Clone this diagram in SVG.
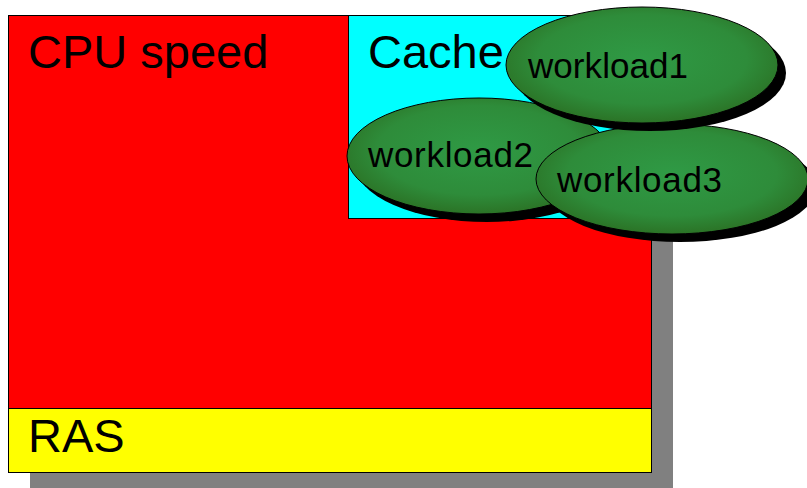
<svg xmlns="http://www.w3.org/2000/svg" width="807" height="488" viewBox="0 0 807 488">
<defs>
<radialGradient id="g" cx="50%" cy="45%" r="55%">
<stop offset="0" stop-color="#2f9a45"/>
<stop offset="0.7" stop-color="#2e8c3a"/>
<stop offset="1" stop-color="#2b7326"/>
</radialGradient>
</defs>
<style>
text{font-family:"Liberation Sans",Arial,sans-serif;fill:#000}
.big{font-size:47px}
.wl{font-size:35px}
.box{stroke:#000;stroke-width:1}
.sh{fill:#000}
.el{fill:url(#g);stroke:#000;stroke-width:1}
</style>
<rect x="30" y="31" width="643" height="457" fill="#808080"/>
<g id="cpu">
<rect class="box" x="8.5" y="15.5" width="643" height="393" fill="#ff0000"/>
<text class="big" x="28" y="68">CPU speed</text>
</g>
<g id="ras">
<rect class="box" x="8.5" y="408.5" width="643" height="64" fill="#ffff00"/>
<text class="big" x="28" y="452">RAS</text>
</g>
<g id="cache">
<rect class="box" x="348.5" y="15.5" width="290" height="203" fill="#00ffff"/>
<text class="big" x="368" y="68">Cache</text>
</g>
<g id="workload2">
<ellipse class="sh" cx="487" cy="164" rx="132" ry="58"/>
<ellipse class="el" cx="479" cy="156" rx="132" ry="58"/>
<text class="wl" x="368" y="167" textLength="165">workload2</text>
</g>
<g id="workload3">
<ellipse class="sh" cx="680" cy="187" rx="136" ry="55"/>
<ellipse class="el" cx="672" cy="179" rx="136" ry="55"/>
<text class="wl" x="557" y="192" textLength="165">workload3</text>
</g>
<g id="workload1">
<ellipse class="sh" cx="650" cy="73" rx="136" ry="58"/>
<ellipse class="el" cx="642" cy="65" rx="136" ry="58"/>
<text class="wl" x="528" y="78" textLength="160">workload1</text>
</g>
<g id="connectors"/>
</svg>
